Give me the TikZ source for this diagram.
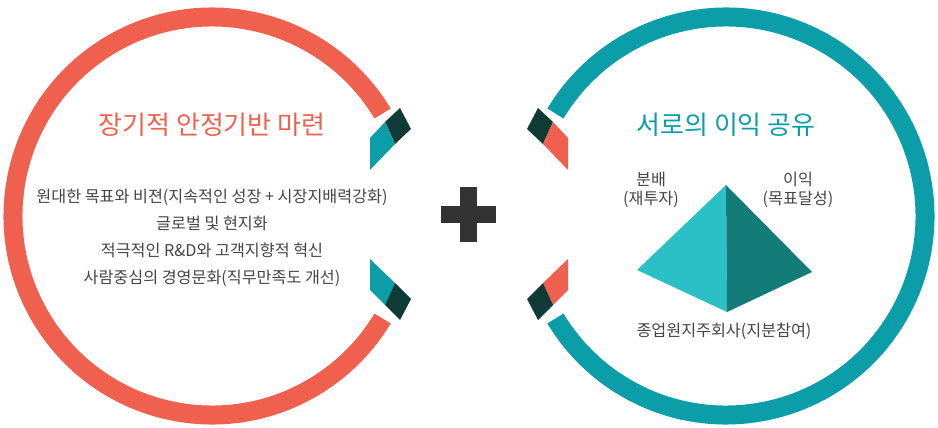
\documentclass[tikz,border=0pt]{standalone}
\usepackage{fontspec}
\setmainfont{Noto Sans CJK KR}
\definecolor{coral}{HTML}{F0604F}
\definecolor{teal}{HTML}{0B9EA8}
\definecolor{deep}{HTML}{0E3B35}
\definecolor{txt}{HTML}{444444}
\definecolor{lite}{HTML}{2BC0C6}
\definecolor{dark}{HTML}{137B78}
\begin{document}
\begin{tikzpicture}[x=1pt, y=-1pt,
  title/.style={font=\fontsize{26}{30}\selectfont},
  item/.style={font=\fontsize{16.2}{19}\selectfont, text=txt},
  lbl/.style={font=\fontsize{16.2}{19}\selectfont, text=txt, align=center}]
\useasboundingbox (0,0) rectangle (938,428);
%%%%%%%%% left ring
\draw [coral, line width=19pt] (212,216) ++(-31:199) arc [start angle=-31, end angle=-329, radius=199];
\fill [deep] (385,122) -- (400,108) -- (411,129) -- (395,144) -- cycle;
\fill [teal] (385,122) -- (395,144) -- (370,170) -- (370,138) -- cycle;
\fill [teal] (370,259) -- (370,290) -- (385,305) -- (395,283) -- cycle;
\fill [deep] (395,283) -- (411,299) -- (400,320) -- (385,305) -- cycle;
%%%%%%%%% right ring
\draw [teal, line width=19pt] (726,216) ++(-149:199) arc [start angle=-149, end angle=149, radius=199];
\fill [deep] (553,122) -- (538,108) -- (527,129) -- (543,144) -- cycle;
\fill [coral] (553,122) -- (543,144) -- (568,170) -- (568,138) -- cycle;
\fill [coral] (568,259) -- (568,290) -- (553,305) -- (543,283) -- cycle;
\fill [deep] (543,283) -- (527,299) -- (538,320) -- (553,305) -- cycle;
%%%%%%%%% plus
\fill [black!80] (460,187) rectangle (477,242);
\fill [black!80] (441,206) rectangle (496,223);
%%%%%%%%% left texts
\node [title, text=coral] (ltitle) at (212,125) {장기적 안정기반 마련};
\node [item] (l1) at (212,197) {원대한 목표와 비젼(지속적인 성장 + 시장지배력강화)};
\node [item] (l2) at (212,223) {글로벌 및 현지화};
\node [item] (l3) at (212,250) {적극적인 R\&D와 고객지향적 혁신};
\node [item] (l4) at (212,278) {사람중심의 경영문화(직무만족도 개선)};
%%%%%%%%% right texts
\node [title, text=teal] (rtitle) at (726,125) {서로의 이익 공유};
\coordinate (top) at (726,185);
\coordinate (lft) at (637,270);
\coordinate (rgt) at (812,272);
\coordinate (bot) at (727,312);
\fill [lite] (top) -- (lft) -- (bot) -- cycle;
\fill [dark] (top) -- (bot) -- (rgt) -- cycle;
\node [lbl] (share) at (651,190) {분배\\(재투자)};
\node [lbl] (gain) at (798,190) {이익\\(목표달성)};
\node [item] (own) at (724,331) {종업원지주회사(지분참여)};
\end{tikzpicture}
\end{document}
